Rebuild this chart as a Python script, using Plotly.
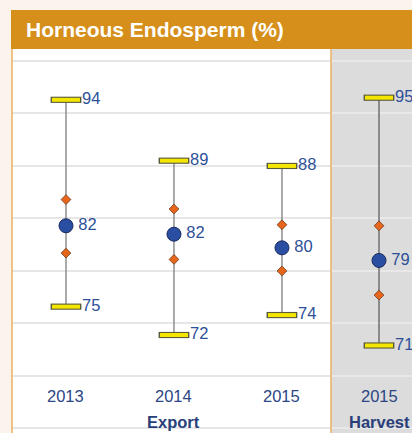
import plotly.graph_objects as go
from plotly.subplots import make_subplots

# ---- data ----
years = ["2013", "2014", "2015", "2015"]
groups = ["Export", "Export", "Export", "Harvest"]
max_vals = [94.4, 88.6, 88.1, 94.6]
upper_vals = [84.9, 84.0, 82.5, 82.4]
mean_vals = [82.4, 81.6, 80.3, 79.1]
lower_vals = [79.8, 79.2, 78.1, 75.8]
min_vals = [74.7, 72.0, 73.9, 71.0]
max_labels = ["94", "89", "88", "95"]
mean_labels = ["82", "82", "80", "79"]
min_labels = ["75", "72", "74", "71"]
group_names = ["Export", "Harvest"]
title_text = "Horneous Endosperm (%)"

FONT = "Liberation Sans, Arial, sans-serif"
VAL_COLOR = "#2D4F98"
AX_COLOR = "#2B4684"
ORANGE = "#D58F1A"
BORDER = "#ECB56A"
GRAY_BG = "#DCDCDC"

fig = make_subplots(rows=1, cols=2, shared_yaxes=True, horizontal_spacing=0,
                    column_widths=[319, 81])

ann = []
for col, gname in enumerate(group_names, start=1):
    idx = [i for i, g in enumerate(groups) if g == gname]
    xs = [years[i] for i in idx]
    xref = "x" if col == 1 else "x2"
    # vertical range lines
    lx, ly = [], []
    for i in idx:
        lx += [years[i], years[i], None]
        ly += [min_vals[i], max_vals[i], None]
    fig.add_trace(go.Scatter(x=lx, y=ly, mode="lines",
                             line=dict(color="#8E8E8E" if col == 1 else "#707070", width=1.5),
                             hoverinfo="skip"), row=1, col=col)
    # max / min bars (dark outline + yellow fill)
    for vals in (max_vals, min_vals):
        yv = [vals[i] for i in idx]
        fig.add_trace(go.Scatter(x=xs, y=yv, mode="markers",
                                 marker=dict(symbol="line-ew", size=22,
                                             line=dict(color="#5A5A3A", width=6.2))),
                      row=1, col=col)
        fig.add_trace(go.Scatter(x=xs, y=yv, mode="markers",
                                 marker=dict(symbol="line-ew", size=20,
                                             line=dict(color="#F4E600", width=4.0))),
                      row=1, col=col)
    # diamonds
    for vals in (upper_vals, lower_vals):
        fig.add_trace(go.Scatter(x=xs, y=[vals[i] for i in idx], mode="markers",
                                 marker=dict(symbol="diamond", size=7.5, color="#E8661C",
                                             line=dict(color="#6A3A1A", width=0.8))),
                      row=1, col=col)
    # mean circles
    fig.add_trace(go.Scatter(x=xs, y=[mean_vals[i] for i in idx], mode="markers",
                             marker=dict(symbol="circle", size=14, color="#2A4EA2",
                                         line=dict(color="#1A2A5E", width=1))),
                  row=1, col=col)
    # value labels
    for vals, labs, s in ((max_vals, max_labels, 24), (min_vals, min_labels, 24),
                          (mean_vals, mean_labels, 18)):
        fig.add_trace(go.Scatter(x=xs, y=[vals[i] for i in idx], mode="markers+text",
                                 text=[labs[i] for i in idx], textposition="middle right",
                                 textfont=dict(family=FONT, size=16.5, color=VAL_COLOR),
                                 marker=dict(size=s, color="rgba(0,0,0,0)"),
                                 cliponaxis=False),
                      row=1, col=col)
    # category labels (by category index on this axis)
    for k, i in enumerate(idx):
        ann.append(dict(x=k, xref=xref, y=0.0964, yref="paper", text=years[i],
                        showarrow=False, xanchor="center", yanchor="middle",
                        font=dict(family=FONT, size=16.5, color=AX_COLOR)))
    ann.append(dict(x=(len(idx) - 1) / 2, xref=xref, y=0.0294, yref="paper",
                    text="<b>" + gname + "</b>", showarrow=False,
                    xanchor="center", yanchor="middle",
                    font=dict(family=FONT, size=16.5, color="#2A3F7A")))

ann.append(dict(x=0.03, xref="paper", y=1.0495, yref="paper", text="<b>" + title_text + "</b>",
                showarrow=False, xanchor="left", yanchor="middle",
                font=dict(family=FONT, size=21, color="white")))

shapes = [
    dict(type="rect", xref="x domain", yref="paper", x0=0, x1=1, y0=0, y1=1,
         fillcolor="white", line=dict(width=0), layer="below"),
    dict(type="rect", xref="x2 domain", yref="paper", x0=0, x1=1, y0=0, y1=1,
         fillcolor=GRAY_BG, line=dict(width=0), layer="below"),
    dict(type="line", xref="paper", yref="paper", x0=0, x1=0, y0=0, y1=1,
         line=dict(color=BORDER, width=1.6)),
    dict(type="line", xref="paper", yref="paper", x0=0.7975, x1=0.7975, y0=0, y1=1,
         line=dict(color=BORDER, width=1.6)),
    dict(type="rect", xref="paper", yref="paper", x0=-0.0025, x1=1.01, y0=1.0, y1=1.1016,
         fillcolor=ORANGE, line=dict(width=0)),
]

fig.update_layout(
    width=412, height=433,
    margin=dict(l=12, r=0, t=49, b=0, pad=0),
    paper_bgcolor="#FBF4EC", plot_bgcolor="white",
    showlegend=False, annotations=ann, shapes=shapes,
)
fig.update_xaxes(showgrid=False, zeroline=False, showticklabels=False, ticks="",
                 showline=False, type="category")
fig.update_xaxes(range=[-0.5, 2.454], row=1, col=1)
fig.update_xaxes(range=[-0.5, 0.34375], row=1, col=2)
fig.update_yaxes(range=[62.667, 99.238], showticklabels=False, ticks="", zeroline=False,
                 tick0=68.1, dtick=5, showgrid=True, gridwidth=2, showline=False)
fig.update_yaxes(gridcolor="#E6E6E6", row=1, col=1)
fig.update_yaxes(gridcolor="#E8E8E8", row=1, col=2)

fig.write_html("out.html", config={"displayModeBar": False},
               post_script="document.body.style.margin='0';document.body.style.overflow='hidden';")
